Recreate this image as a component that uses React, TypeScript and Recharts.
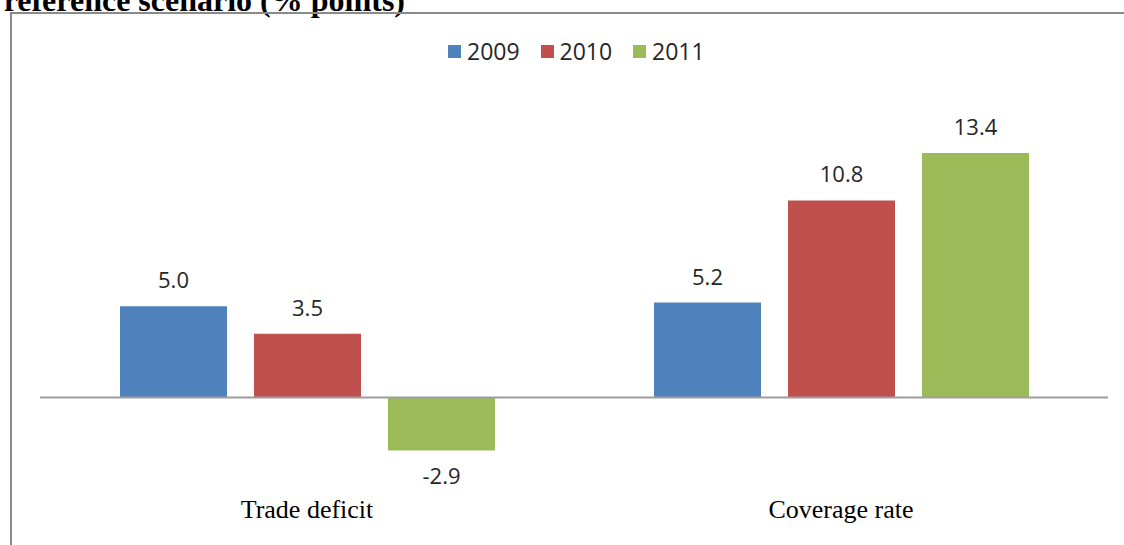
import React from "react";
import { BarChart, Bar, XAxis, YAxis, ReferenceLine, LabelList } from "recharts";

const categories = ["Trade deficit", "Coverage rate"];
const years = ["2009", "2010", "2011"];
const values2009 = [5.0, 5.2];
const values2010 = [3.5, 10.8];
const values2011 = [-2.9, 13.4];
const colors = ["#4F81BD", "#C0504D", "#9BBB59"];
const yDomain = [-4, 16];

const seriesKeys = ["y2009", "y2010", "y2011"];

const data = categories.map((name, i) => ({
  name,
  y2009: values2009[i],
  y2010: values2010[i],
  y2011: values2011[i],
}));

const serif = "'Liberation Serif', 'Times New Roman', serif";
const sans = "'Open Sans', 'Noto Sans', sans-serif";

const CategoryTick = ({ x, y, payload }: any) => (
  <text
    x={x}
    y={y + 47}
    textAnchor="middle"
    fontFamily={serif}
    fontSize={26}
    fill="#000"
  >
    {payload.value}
  </text>
);

const App: React.FC = () => {
  return (
    <div
      style={{
        position: "absolute",
        left: 0,
        top: 0,
        width: 1124,
        height: 545,
        background: "#fff",
        overflow: "hidden",
      }}
    >
      {/* heading, cut off at the top of the frame */}
      <div
        style={{
          position: "absolute",
          right: 1124 - 405,
          top: -16,
          whiteSpace: "nowrap",
          fontFamily: serif,
          fontWeight: "bold",
          fontSize: 32,
          lineHeight: "32px",
          color: "#000",
        }}
      >
        reference scenario (% points)
      </div>

      {/* chart frame */}
      <div
        style={{
          position: "absolute",
          left: 10,
          top: 12,
          width: 1200,
          height: 600,
          borderLeft: "2px solid #8a8a8a",
          borderTop: "2px solid #8a8a8a",
        }}
      />

      {/* legend */}
      <div
        style={{
          position: "absolute",
          left: 448,
          top: 37,
          display: "flex",
          fontFamily: sans,
          fontSize: 23,
          lineHeight: "28px",
          color: "#262626",
        }}
      >
        {years.map((year, i) => (
          <div
            key={year}
            style={{ width: 92.5, display: "flex", alignItems: "center" }}
          >
            <span
              style={{
                width: 13,
                height: 13,
                background: colors[i],
                marginRight: 6,
                display: "inline-block",
              }}
            />
            <span>{year}</span>
          </div>
        ))}
      </div>

      <div style={{ position: "absolute", left: 0, top: 0 }}>
        <BarChart
          width={1124}
          height={545}
          data={data}
          margin={{ top: 105.5, right: 16, bottom: 34.5, left: 40 }}
          barSize={107}
          barGap={27}
        >
          <XAxis
            dataKey="name"
            axisLine={false}
            tickLine={false}
            tickSize={0}
            tickMargin={0}
            height={40}
            interval={0}
            tick={<CategoryTick />}
          />
          <YAxis hide domain={yDomain} />
          {seriesKeys.map((key, i) => (
            <Bar
              key={key}
              dataKey={key}
              name={years[i]}
              fill={colors[i]}
              isAnimationActive={false}
            >
              <LabelList
                dataKey={key}
                position="top"
                offset={18}
                formatter={(v: any) => Number(v).toFixed(1)}
                style={{ fontFamily: sans, fontSize: 22, fill: "#262626" }}
              />
            </Bar>
          ))}
          <ReferenceLine y={0} stroke="#9e9e9e" strokeWidth={2} />
        </BarChart>
      </div>
    </div>
  );
};

export default App;
